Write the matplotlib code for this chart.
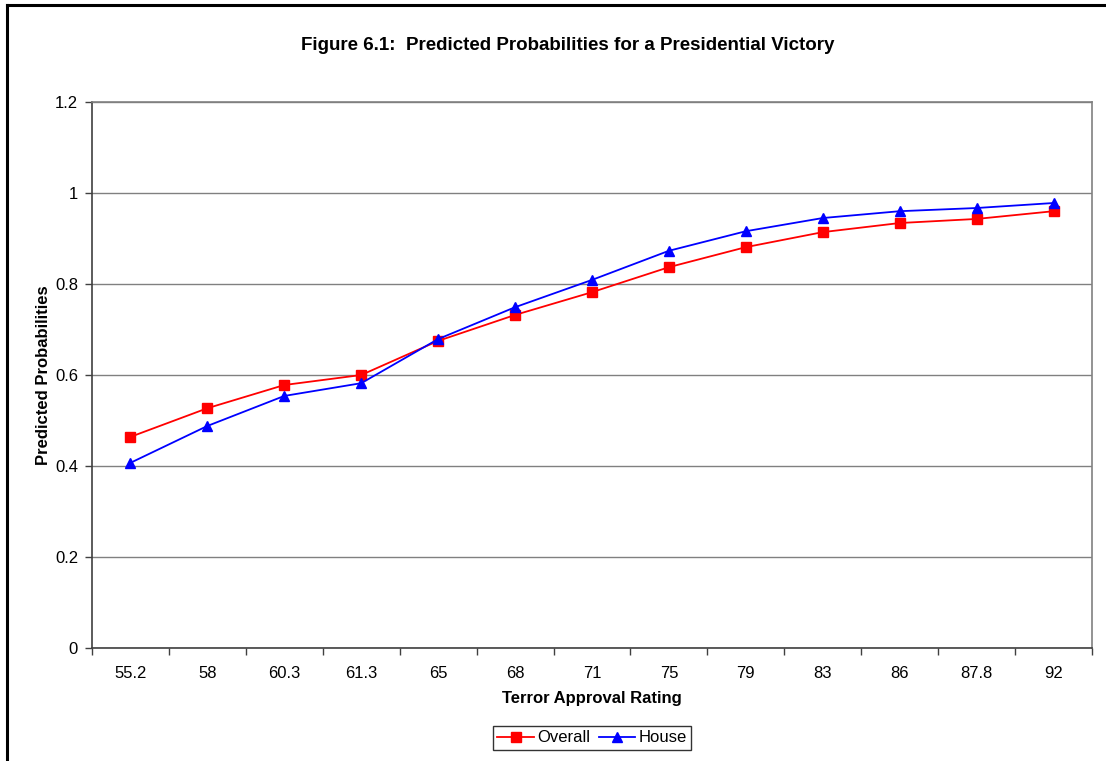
import numpy as np
import matplotlib
matplotlib.use("Agg")
import matplotlib.pyplot as plt
from matplotlib.lines import Line2D
from matplotlib.ticker import FixedLocator, FuncFormatter

plt.rcParams['font.family'] = ['Liberation Sans', 'DejaVu Sans']

# category labels and the two predicted-probability series
approval = ["55.2", "58", "60.3", "61.3", "65", "68", "71", "75", "79", "83", "86", "87.8", "92"]
overall = [0.464, 0.527, 0.578, 0.600, 0.675, 0.732, 0.782, 0.837, 0.881, 0.914, 0.934, 0.943, 0.960]
house = [0.407, 0.488, 0.554, 0.582, 0.679, 0.749, 0.809, 0.873, 0.916, 0.945, 0.960, 0.967, 0.978]

fig = plt.figure(figsize=(11.06, 7.61), dpi=100)
ax = fig.add_axes([92 / 1106, 1 - 648 / 761, 1000 / 1106, 546 / 761])

x = np.arange(len(approval))
ax.plot(x, overall, color="#ff0000", lw=1.3, marker="s", ms=7, mec="#ff0000",
        label="Overall", zorder=3)
ax.plot(x, house, color="#0000ff", lw=1.3, marker="^", ms=7, mec="#0000ff",
        label="House", zorder=4)

ax.set_xlim(-0.5, len(approval) - 0.5)
ax.set_ylim(0, 1.2)

# y axis: gridlines every 0.2
ax.set_yticks(np.arange(0, 1.21, 0.2))
ax.yaxis.set_major_formatter(FuncFormatter(lambda v, p: f"{v:g}"))
ax.grid(axis="y", color="#808080", lw=1)
ax.set_axisbelow(True)

# x axis: labels at categories, tick marks between them
ax.set_xticks(x)
ax.set_xticklabels(approval)
ax.xaxis.set_minor_locator(FixedLocator(np.arange(-0.5, len(approval), 1.0)))
ax.tick_params(axis="x", which="major", length=0, pad=13, labelsize=12)
ax.tick_params(axis="x", which="minor", length=5, width=1, color="#404040", direction="out")
ax.tick_params(axis="y", length=5, width=1, color="#404040", direction="out", labelsize=12, pad=5)

for s in ["left", "bottom"]:
    ax.spines[s].set_color("#404040")
    ax.spines[s].set_linewidth(1.2)
for s in ["top", "right"]:
    ax.spines[s].set_color("#808080")
    ax.spines[s].set_linewidth(1.2)

ax.set_xlabel("Terror Approval Rating", fontsize=12, fontweight="bold", labelpad=7)
ax.set_ylabel("Predicted Probabilities", fontsize=12, fontweight="bold", labelpad=3)

fig.text(568 / 1106, 1 - 45 / 761, "Figure 6.1:  Predicted Probabilities for a Presidential Victory",
         ha="center", va="center", fontsize=13.5, fontweight="bold")

leg = ax.legend(loc="center", bbox_to_anchor=(592 / 1106, 1 - 738 / 761),
                bbox_transform=fig.transFigure, ncol=2, frameon=True, fancybox=False,
                fontsize=12, handlelength=2.2, handletextpad=0.2, columnspacing=0.5,
                borderpad=0.25, borderaxespad=0)
leg.get_frame().set_edgecolor("#000000")
leg.get_frame().set_linewidth(1)

# outer chart border (left and top edges visible)
fig.add_artist(Line2D([7 / 1106, 7 / 1106], [0, 1 - 5 / 761], transform=fig.transFigure,
                      color="black", lw=2.2))
fig.add_artist(Line2D([7 / 1106, 1], [1 - 5 / 761, 1 - 5 / 761], transform=fig.transFigure,
                      color="black", lw=2.2))

fig.savefig("out.png", dpi=100)
